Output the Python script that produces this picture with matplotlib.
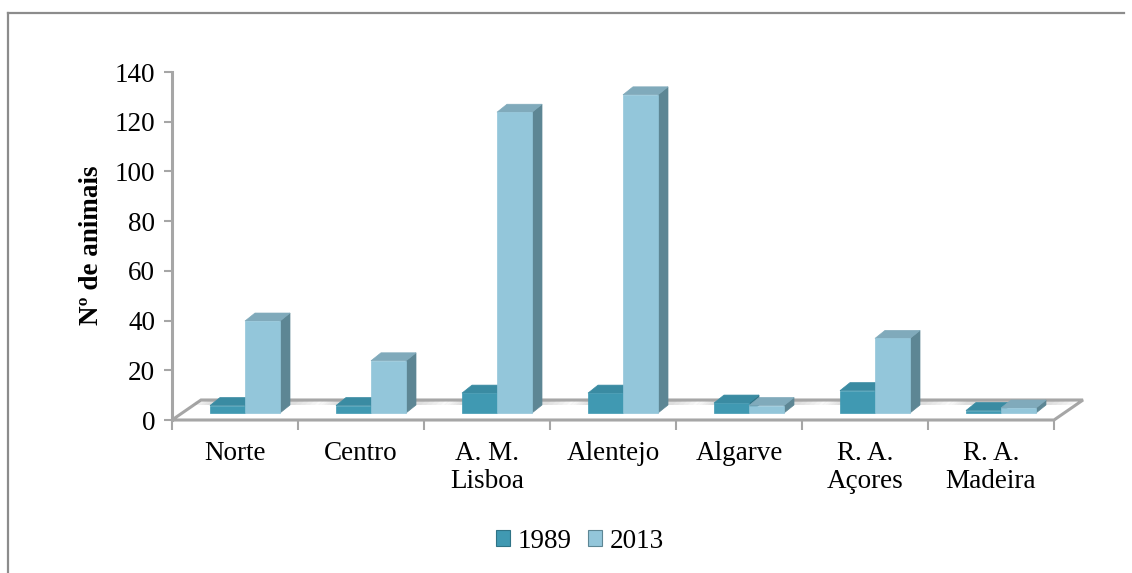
import matplotlib
matplotlib.use("Agg")
import matplotlib.pyplot as plt
from matplotlib.patches import Polygon, Patch
from matplotlib.lines import Line2D

# Animal counts per region, 1989 vs 2013
regions = ["Norte", "Centro", "A. M.\nLisboa", "Alentejo", "Algarve",
           "R. A.\nAçores", "R. A.\nMadeira"]
years = ["1989", "2013"]
counts_1989 = [3, 3, 8, 8, 4, 9, 1]
counts_2013 = [37, 21, 121, 128, 3, 30, 2]
y_ticks = [0, 20, 40, 60, 80, 100, 120, 140]

W, H = 1132, 573
plt.rcParams['font.family'] = ['Liberation Serif', 'DejaVu Serif']
FS = 19.5

fig = plt.figure(figsize=(W / 100, H / 100), dpi=100)
ax = fig.add_axes([172 / W, (H - 420) / H, 882 / W, 348 / H])
ax.set_xlim(-0.5, len(regions) - 0.5)
ax.set_ylim(0, 140)

# size of one pixel in data units
ux = (len(regions)) / 882
uy = 140 / 348

floor_dx, floor_dy = 29 * ux, 20 * uy      # depth of the floor
base_dx, base_dy = 10 * ux, 7 * uy         # bars stand mid-way on the floor
bar_dx, bar_dy = 10 * ux, 8 * uy           # depth of each bar
bar_w = 35 * ux

grey = "#A6A6A6"

# floor
x0, x1 = -0.5, len(regions) - 0.5
floor = Polygon([(x0, 0), (x1, 0), (x1 + floor_dx, floor_dy), (x0 + floor_dx, floor_dy)],
                closed=True, facecolor="white", edgecolor=grey, lw=2.2,
                clip_on=False, zorder=1)
ax.add_patch(floor)

palette = {
    "1989": dict(front="#4099B2", side="#2F7386", top="#3A8BA2"),
    "2013": dict(front="#93C6DA", side="#5D8694", top="#80AABB"),
}

# soft shadow on the floor behind each pair of bars
for i, (a, b) in enumerate(zip(counts_1989, counts_2013)):
    left = i - bar_w + base_dx
    right = i + bar_w + base_dx
    for k in range(6):
        grow = (k + 1) * 5 * ux
        shade = Polygon([(left - grow * 0.6, base_dy + bar_dy),
                         (right + bar_dx + grow, base_dy + bar_dy),
                         (right + bar_dx + grow + 4 * ux, floor_dy - 1 * uy),
                         (left - grow * 0.6 + 4 * ux, floor_dy - 1 * uy)],
                        closed=True, facecolor="#707070", edgecolor="none",
                        alpha=0.04, clip_on=False, zorder=1.5)
        ax.add_patch(shade)

# bars: front faces through ax.bar, then top and side faces from the same values
z = 3
for i in range(len(regions)):
    for j, (year, vals) in enumerate(zip(years, [counts_1989, counts_2013])):
        c = palette[year]
        v = vals[i]
        xl = i - bar_w + j * bar_w + base_dx
        bars = ax.bar([xl], [v], width=bar_w, bottom=base_dy, align="edge",
                      color=c["front"], edgecolor=c["front"], lw=0.5,
                      zorder=z + 0.2, clip_on=False)
        r = bars[0]
        bx, by, bw, bh = r.get_x(), r.get_y(), r.get_width(), r.get_height()
        top = Polygon([(bx, by + bh), (bx + bw, by + bh),
                       (bx + bw + bar_dx, by + bh + bar_dy), (bx + bar_dx, by + bh + bar_dy)],
                      closed=True, facecolor=c["top"], edgecolor=c["top"], lw=0.5,
                      zorder=z + 0.1, clip_on=False)
        side = Polygon([(bx + bw, by), (bx + bw + bar_dx, by + bar_dy),
                        (bx + bw + bar_dx, by + bh + bar_dy), (bx + bw, by + bh)],
                       closed=True, facecolor=c["side"], edgecolor=c["side"], lw=0.5,
                       zorder=z, clip_on=False)
        ax.add_patch(side)
        ax.add_patch(top)
        z += 1

# axes styling
for s in ["top", "right", "bottom"]:
    ax.spines[s].set_visible(False)
ax.spines["left"].set_color(grey)
ax.spines["left"].set_linewidth(2.2)
ax.set_yticks(y_ticks)
ax.set_yticklabels([str(t) for t in y_ticks], fontsize=FS)
ax.tick_params(axis="y", colors=grey, length=6, width=1.5, labelcolor="black", pad=6)

ax.set_xticks([i - 0.5 for i in range(len(regions) + 1)])
ax.set_xticklabels([])
ax.set_xticks(list(range(len(regions))), minor=True)
ax.set_xticklabels(regions, minor=True, fontsize=FS, linespacing=1.15)
ax.tick_params(axis="x", which="major", colors=grey, length=7, width=1.5)
ax.tick_params(axis="x", which="minor", length=0, pad=15, labelcolor="black")

ax.set_ylabel("Nº de animais", fontsize=FS, fontweight="bold")
ax.yaxis.set_label_coords(-0.077, 0.503)

# legend
handles = [Patch(facecolor=palette[y]["front"], edgecolor=palette[y]["side"], lw=0.8)
           for y in years]
fig.legend(handles, years, loc="center", bbox_to_anchor=(580 / W, 1 - 541 / H),
           ncol=2, frameon=False, fontsize=FS, handlelength=0.5, handleheight=0.5,
           handletextpad=0.3, columnspacing=0.6, borderpad=0)

# chart frame
fig.add_artist(Line2D([8 / W, 8 / W], [0, 1 - 13 / H], transform=fig.transFigure,
                      color="#8C8C8C", lw=1.6))
fig.add_artist(Line2D([8 / W, 1124 / W], [1 - 13 / H, 1 - 13 / H], transform=fig.transFigure,
                      color="#8C8C8C", lw=1.6))

fig.savefig("out.png", dpi=100, facecolor="white")
